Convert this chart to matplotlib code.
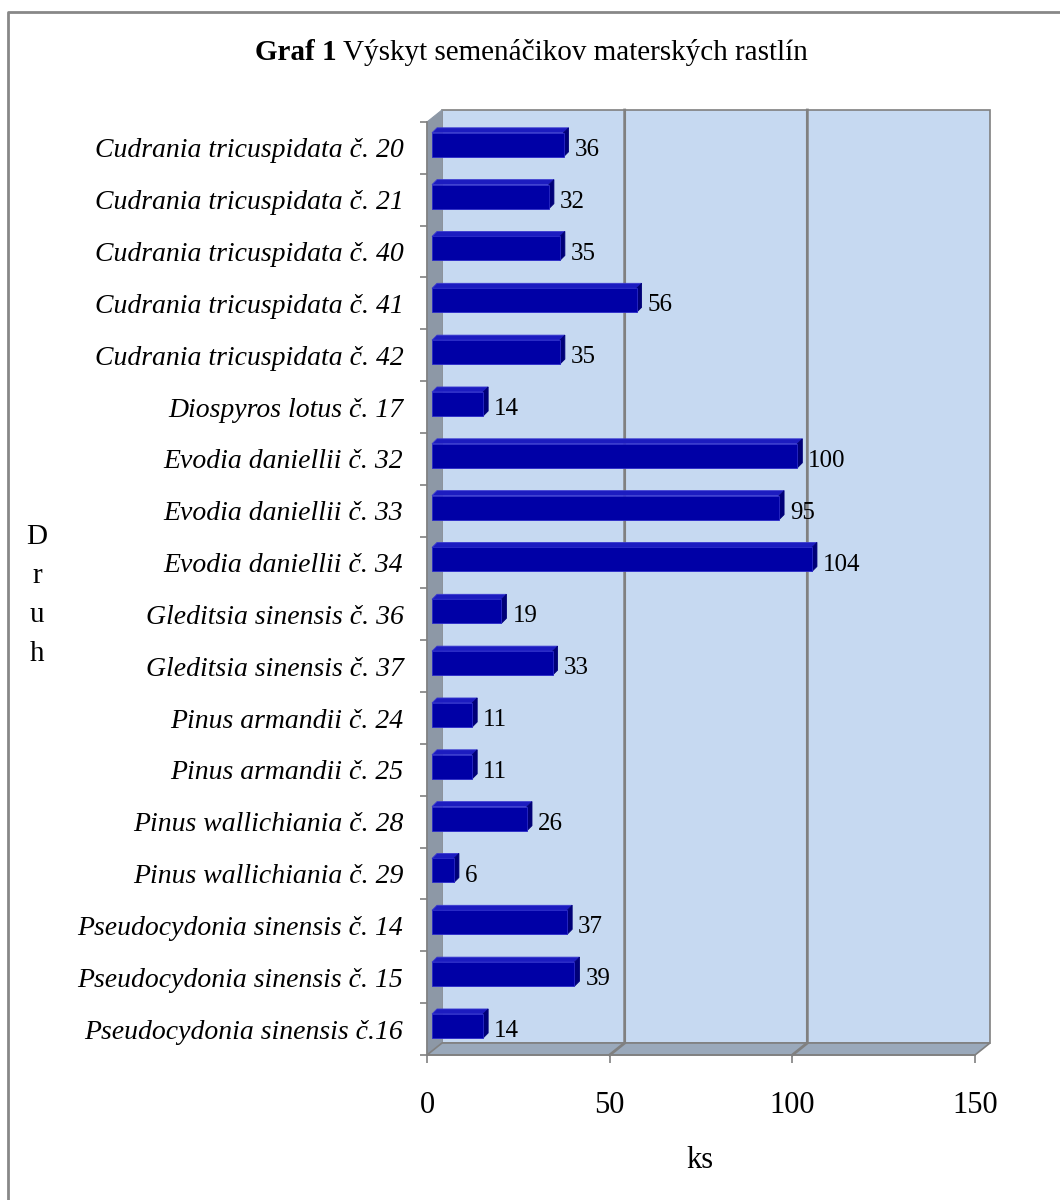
import matplotlib.pyplot as plt
from matplotlib.patches import Polygon, Rectangle
from matplotlib.lines import Line2D

# ---- data ----
species = [
    "Cudrania tricuspidata č. 20",
    "Cudrania tricuspidata č. 21",
    "Cudrania tricuspidata č. 40",
    "Cudrania tricuspidata č. 41",
    "Cudrania tricuspidata č. 42",
    "Diospyros lotus č. 17",
    "Evodia daniellii č. 32",
    "Evodia daniellii č. 33",
    "Evodia daniellii č. 34",
    "Gleditsia sinensis č. 36",
    "Gleditsia sinensis č. 37",
    "Pinus armandii č. 24",
    "Pinus armandii č. 25",
    "Pinus wallichiania č. 28",
    "Pinus wallichiania č. 29",
    "Pseudocydonia sinensis č. 14",
    "Pseudocydonia sinensis č. 15",
    "Pseudocydonia sinensis č.16",
]
counts = [36, 32, 35, 56, 35, 14, 100, 95, 104, 19, 33, 11, 11, 26, 6, 37, 39, 14]
xticks = [0, 50, 100, 150]

plt.rcParams["font.family"] = ["Liberation Serif", "DejaVu Serif"]

W, H = 1060, 1200
fig = plt.figure(figsize=(W / 100, H / 100), dpi=100)

# axes = front frame of the pseudo-3D plot area (pixels 427..975, 122..1055)
ax = fig.add_axes([427 / W, 1 - 1055 / H, 548 / W, (1055 - 122) / H])
n = len(species)
XMAX = 150
ax.set_xlim(0, XMAX)
ax.set_ylim(n - 0.5, -0.5)
for s in ax.spines.values():
    s.set_visible(False)
ax.patch.set_visible(False)

pxx = 548 / XMAX          # px per x unit
pxy = (1055 - 122) / n    # px per category
dx, dy = 15 / pxx, -12 / pxy   # wall depth
top, bot = -0.5, n - 0.5

wall_c = "#c6d9f1"
side_c = "#8d98a6"
floor_c = "#9aa9bb"
edge_c = "#808080"

# back wall
ax.add_patch(Polygon([(dx, top + dy), (XMAX + dx, top + dy), (XMAX + dx, bot + dy), (dx, bot + dy)],
                     closed=True, fc=wall_c, ec=edge_c, lw=1.2, clip_on=False, zorder=0))
# left wall
ax.add_patch(Polygon([(0, top), (dx, top + dy), (dx, bot + dy), (0, bot)],
                     closed=True, fc=side_c, ec=side_c, lw=0.8, clip_on=False, zorder=1))
# floor
ax.add_patch(Polygon([(0, bot), (XMAX, bot), (XMAX + dx, bot + dy), (dx, bot + dy)],
                     closed=True, fc=floor_c, ec=edge_c, lw=1.2, clip_on=False, zorder=1))

# gridlines on back wall and floor
for g in xticks[1:-1]:
    ax.plot([g + dx, g + dx, g], [top + dy, bot + dy, bot], color=edge_c, lw=2,
            clip_on=False, zorder=1.5)

# front axis lines
ax.plot([0, 0], [top, bot], color=edge_c, lw=1.2, clip_on=False, zorder=2)
ax.plot([0, XMAX], [bot, bot], color=edge_c, lw=1.2, clip_on=False, zorder=2)

# 3D bars
bx0 = 5 / pxx
bdx, bdy = 5 / pxx, -5 / pxy
half = 12 / pxy
front_c = "#0000a6"
topf_c = "#1c1cc0"
side_bar_c = "#000078"
for i, v in enumerate(counts):
    yc = i - 0.06
    y0, y1 = yc - half, yc + half
    x0, x1 = bx0, bx0 + v
    ax.add_patch(Polygon([(x0, y0), (x1, y0), (x1 + bdx, y0 + bdy), (x0 + bdx, y0 + bdy)],
                         closed=True, fc=topf_c, ec="#3a3ad0", lw=0.6, clip_on=False, zorder=3))
    ax.add_patch(Polygon([(x1, y0), (x1 + bdx, y0 + bdy), (x1 + bdx, y1 + bdy), (x1, y1)],
                         closed=True, fc=side_bar_c, ec=side_bar_c, lw=0.6, clip_on=False, zorder=3))
    ax.add_patch(Rectangle((x0, y0), v, y1 - y0, fc=front_c, ec="#2a2ac8", lw=0.6,
                           clip_on=False, zorder=4))
    ax.text(x1 + bdx + 6 / pxx, i + 0.04, str(v), ha="left", va="center",
            fontsize=18, color="black", zorder=5)

# y axis: tick marks between categories, labels at centres
ax.set_yticks(range(n))
ax.set_yticklabels(species, fontstyle="italic", fontsize=20)
ax.tick_params(axis="y", which="major", length=0, pad=17)
ax.set_yticks([k - 0.5 for k in range(n + 1)], minor=True)
ax.tick_params(axis="y", which="minor", length=5, width=1.2, color=edge_c, direction="out")

# x axis
ax.set_xticks(xticks)
ax.set_xticklabels([str(t) for t in xticks], fontsize=22)
ax.tick_params(axis="x", length=6, width=1.2, color=edge_c, direction="out", pad=20)

# titles and axis labels
ty = 1 - 53 / H
fig.text(337 / W, ty, "Graf 1", ha="right", va="center", fontsize=21, fontweight="bold")
fig.text(343 / W, ty, "Výskyt semenáčikov materských rastlín", ha="left", va="center", fontsize=21)
fig.text(37 / W, 1 - 596 / H, "D\nr\nu\nh", ha="center", va="center", fontsize=21, linespacing=1.65)
fig.text(700 / W, 1 - 1160 / H, "ks", ha="center", va="center", fontsize=22)

# outer chart border (top and left visible)
fig.add_artist(Line2D([8 / W, 8 / W, 1.01], [-0.01, 1 - 12 / H, 1 - 12 / H],
                      transform=fig.transFigure, color="#888888", lw=2))

fig.savefig("out.png", dpi=100)
